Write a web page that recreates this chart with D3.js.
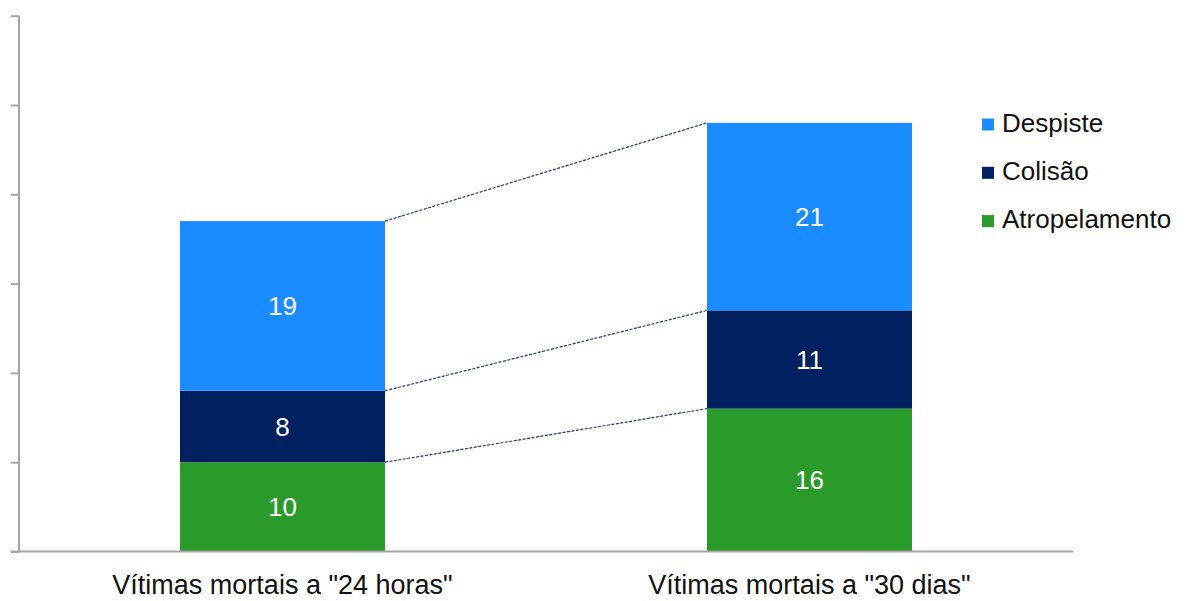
<!DOCTYPE html>
<html>
<head>
<meta charset="utf-8">
<script src="https://cdn.jsdelivr.net/npm/d3@7"></script>
<style>
  body { margin: 0; background: #fff; }
  text { font-family: "Liberation Sans", Arial, sans-serif; }
</style>
</head>
<body>
<div id="chart"></div>
<script>
(function(){
    // Data
    const categories = ['Vítimas mortais a "24 horas"', 'Vítimas mortais a "30 dias"'];
    const seriesNames = ["Atropelamento", "Colisão", "Despiste"];
    const atropelamento = [10, 16];
    const colisao = [8, 11];
    const despiste = [19, 21];
    const yTicks = [0, 10, 20, 30, 40, 50, 60];

    const colors = {"Atropelamento": "#2a9a2a", "Colisão": "#002060", "Despiste": "#1a8cff"};

    const width = 1186, height = 601;
    const x0 = 19, x1 = 1073, y0 = 551.5, yTop = 15.7;
    const barWidth = 205;

    const svg = d3.select("#chart").append("svg")
        .attr("width", width)
        .attr("height", height);

    const x = d3.scalePoint()
        .domain(categories)
        .range([x0, x1])
        .padding(0.5);

    const y = d3.scaleLinear()
        .domain([0, 60])
        .range([y0, yTop]);

    // build the stack table
    const table = categories.map((c, i) => ({
        cat: c,
        "Atropelamento": atropelamento[i],
        "Colisão": colisao[i],
        "Despiste": despiste[i]
    }));
    const stacked = d3.stack().keys(seriesNames)(table);

    // Series lines between bars (dashed)
    stacked.forEach(s => {
        svg.append("line")
            .attr("x1", x(categories[0]) + barWidth / 2)
            .attr("y1", y(s[0][1]))
            .attr("x2", x(categories[1]) - barWidth / 2)
            .attr("y2", y(s[1][1]))
            .style("stroke", "#1f3a7a")
            .style("stroke-width", 1.2)
            .style("stroke-dasharray", "3,1.5");
    });

    // Bars
    const layer = svg.selectAll(".layer")
        .data(stacked)
        .enter().append("g")
        .attr("class", "layer")
        .style("fill", d => colors[d.key]);

    layer.selectAll("rect")
        .data(d => d)
        .enter().append("rect")
        .attr("x", d => x(d.data.cat) - barWidth / 2)
        .attr("y", d => y(d[1]))
        .attr("width", barWidth)
        .attr("height", d => y(d[0]) - y(d[1]));

    layer.selectAll("text")
        .data(d => d)
        .enter().append("text")
        .attr("x", d => x(d.data.cat))
        .attr("y", d => (y(d[0]) + y(d[1])) / 2)
        .attr("dy", "0.36em")
        .attr("text-anchor", "middle")
        .style("fill", "#fff")
        .style("font-size", "26px")
        .text(d => d[1] - d[0]);

    // Y axis (ticks only)
    const yAxis = d3.axisLeft(y).tickValues(yTicks).tickSize(8).tickFormat("");
    const gy = svg.append("g")
        .attr("transform", "translate(" + x0 + ",0)")
        .call(yAxis);
    gy.select(".domain").attr("d", "M0," + y0 + "V" + yTop);
    gy.selectAll("line, path").style("stroke", "#a6a6a6").style("stroke-width", 2);

    // X axis baseline
    svg.append("line")
        .attr("x1", x0 - 8).attr("x2", x1)
        .attr("y1", y0).attr("y2", y0)
        .style("stroke", "#a6a6a6")
        .style("stroke-width", 2);

    // X labels
    svg.selectAll(".xlabel")
        .data(categories)
        .enter().append("text")
        .attr("class", "xlabel")
        .attr("x", d => x(d))
        .attr("y", 594)
        .attr("text-anchor", "middle")
        .style("font-size", "27px")
        .style("fill", "#111")
        .text(d => d);

    // Legend
    const legendOrder = ["Despiste", "Colisão", "Atropelamento"];
    const legend = svg.selectAll(".legend")
        .data(legendOrder)
        .enter().append("g")
        .attr("class", "legend")
        .attr("transform", (d, i) => "translate(982," + (131.5 + i * 48.3) + ")");

    legend.append("rect")
        .attr("x", 0).attr("y", -13)
        .attr("width", 12).attr("height", 12)
        .style("fill", d => colors[d]);

    legend.append("text")
        .attr("x", 20).attr("y", 0)
        .style("font-size", "26px")
        .style("fill", "#111")
        .text(d => d);
})();
</script>
</body>
</html>
